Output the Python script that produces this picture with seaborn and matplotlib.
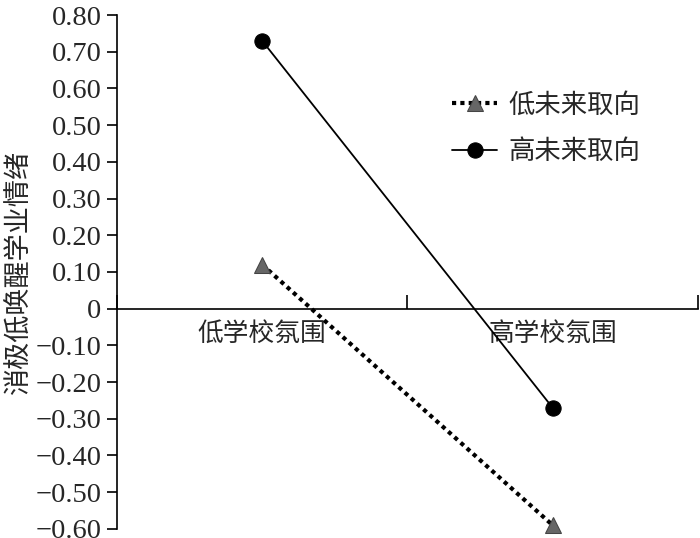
import pandas as pd
import matplotlib.pyplot as plt
import seaborn as sns

categories = ['低学校氛围', '高学校氛围']
low_future = [0.12, -0.59]
high_future = [0.73, -0.27]
series_names = ['低未来取向', '高未来取向']
y_ticks = [0.80, 0.70, 0.60, 0.50, 0.40, 0.30, 0.20, 0.10, 0, -0.10, -0.20, -0.30, -0.40, -0.50, -0.60]
y_tick_labels = ['0.80', '0.70', '0.60', '0.50', '0.40', '0.30', '0.20', '0.10', '0',
                 '\u22120.10', '\u22120.20', '\u22120.30', '\u22120.40', '\u22120.50', '\u22120.60']

df = pd.DataFrame({
    'x': [0.5, 1.5, 0.5, 1.5],
    'y': low_future + high_future,
    'group': [series_names[0]] * 2 + [series_names[1]] * 2,
})

sns.set_style('white')
cjk = ['Noto Sans CJK SC', 'DejaVu Sans']
serif = ['Liberation Serif', 'DejaVu Serif']

fig = plt.figure(figsize=(7, 5.38), dpi=100)
ax = fig.add_axes([0.167, 0.017, 0.83, 0.955])

sub = df[df['group'] == series_names[0]]
sns.lineplot(data=sub, x='x', y='y', ax=ax, color='black', linestyle=(0, (1, 1)), linewidth=3,
             marker='^', markersize=11, markerfacecolor='#666666', markeredgecolor='#444444',
             label=series_names[0], clip_on=False)
sub = df[df['group'] == series_names[1]]
sns.lineplot(data=sub, x='x', y='y', ax=ax, color='black', linewidth=1.3,
             marker='o', markersize=11, markerfacecolor='black', markeredgecolor='black',
             label=series_names[1], clip_on=False)

ax.set_xlim(0, 2)
ax.set_ylim(-0.60, 0.80)
ax.set_yticks(y_ticks)
ax.set_yticklabels(y_tick_labels, family=serif, fontsize=20.5)
ax.tick_params(axis='y', direction='out', length=7, width=1.2, color='black', pad=4, left=True)

ax.spines['top'].set_visible(False)
ax.spines['right'].set_visible(False)
ax.spines['bottom'].set_position(('data', 0))
for s in ['left', 'bottom']:
    ax.spines[s].set_color('black')
    ax.spines[s].set_linewidth(1.2)

ax.set_xticks([0.5, 1.5])
ax.set_xticklabels(categories, family=cjk, fontsize=18.5)
ax.tick_params(axis='x', which='major', length=0, pad=9)
ax.set_xticks([0, 1, 2], minor=True)
ax.tick_params(axis='x', which='minor', direction='in', length=10, width=1.2, color='black', bottom=True)

ax.set_xlabel('')
ax.set_ylabel('消极低唤醒学业情绪', family=cjk, fontsize=19.5)
ax.yaxis.set_label_coords(-0.145, 0.5)

leg = ax.legend(loc='upper left', bbox_to_anchor=(0.612, 0.874), bbox_transform=fig.transFigure,
                frameon=False, prop={'family': cjk, 'size': 19}, handlelength=1.7,
                labelspacing=0.75, handletextpad=0.45)

fig.savefig('out.png', dpi=100)
